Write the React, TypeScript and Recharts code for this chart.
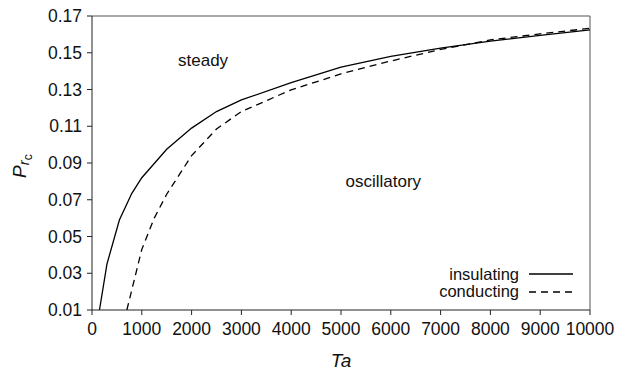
import {
  LineChart,
  Line,
  XAxis,
  YAxis,
  Legend,
  ReferenceLine,
  ReferenceDot,
} from "recharts";

// insulating boundary
const insTa = [150, 300, 550, 800, 1000, 1500, 2000, 2500, 3000, 4000, 5000, 6000, 7000, 8000, 9000, 10000];
const insP = [0.01, 0.035, 0.059, 0.0735, 0.082, 0.0975, 0.109, 0.118, 0.1243, 0.1337, 0.1422, 0.148, 0.1525, 0.1563, 0.1595, 0.1624];

// conducting boundary
const conTa = [700, 1000, 1250, 1500, 2000, 2500, 3000, 4000, 5000, 6000, 7000, 8000, 9000, 10000];
const conP = [0.01, 0.043, 0.06, 0.073, 0.094, 0.1085, 0.118, 0.1298, 0.1385, 0.1455, 0.1518, 0.157, 0.1603, 0.1633];

const xTicks = [0, 1000, 2000, 3000, 4000, 5000, 6000, 7000, 8000, 9000, 10000];
const yTicks = [0.01, 0.03, 0.05, 0.07, 0.09, 0.11, 0.13, 0.15, 0.17];
const legendOrder = ["insulating", "conducting"];

const insulating = insTa.map((ta, i) => ({ ta, p: insP[i] }));
const conducting = conTa.map((ta, i) => ({ ta, p: conP[i] }));

const FONT = "'Liberation Sans', Arial, sans-serif";
const tickStyle = { fontSize: 17.5, fill: "#111", fontFamily: FONT };

function LegendBox({ payload }: any) {
  const items = [...(payload || [])].sort(
    (a: any, b: any) => legendOrder.indexOf(a.value) - legendOrder.indexOf(b.value)
  );
  return (
    <div style={{ fontFamily: FONT, fontSize: 16.5, color: "#111" }}>
      {items.map((item: any) => (
        <div
          key={item.value}
          style={{ display: "flex", alignItems: "center", justifyContent: "flex-end", height: 17.5 }}
        >
          <span style={{ lineHeight: "16px" }}>{item.value}</span>
          <svg width={54} height={17}>
            <line
              x1={10}
              x2={54}
              y1={9}
              y2={9}
              stroke="#000"
              strokeWidth={1.3}
              strokeDasharray={item.payload?.strokeDasharray}
            />
          </svg>
        </div>
      ))}
    </div>
  );
}

function YLabel() {
  return (
    <text transform="rotate(-90, 26, 178)" x={26} y={178} fontFamily={FONT} fill="#111">
      <tspan fontSize={19} fontStyle="italic">P</tspan>
      <tspan fontSize={15} dy={3} fontStyle="italic">r</tspan>
      <tspan fontSize={12} dy={3}>c</tspan>
    </text>
  );
}

export default function App() {
  return (
    <div style={{ position: "absolute", left: 0, top: 0, background: "#fff" }}>
      <LineChart
        width={617}
        height={371}
        margin={{ top: 16, right: 27, bottom: 0, left: 0 }}
      >
        <XAxis
          type="number"
          dataKey="ta"
          domain={[0, 10000]}
          ticks={xTicks}
          interval={0}
          height={61}
          tick={tickStyle}
          tickSize={5}
          tickMargin={8}
          stroke="#222"
          label={{
            value: "Ta",
            position: "insideBottom",
            offset: 4,
            style: { fontSize: 19, fontStyle: "italic", fill: "#111", fontFamily: FONT },
          }}
        />
        <YAxis
          type="number"
          domain={[0.01, 0.17]}
          ticks={yTicks}
          interval={0}
          width={92}
          tick={tickStyle}
          tickSize={5}
          tickMargin={5}
          tickFormatter={(v) => v.toFixed(2)}
          stroke="#222"
          label={<YLabel />}
        />
        <ReferenceLine y={0.17} stroke="#555" />
        <ReferenceLine x={10000} stroke="#555" />
        <ReferenceDot
          x={2230}
          y={0.146}
          r={1}
          fill="none"
          stroke="none"
          label={{ value: "steady", position: "center", style: { fontSize: 17, fill: "#111", fontFamily: FONT } }}
        />
        <ReferenceDot
          x={5850}
          y={0.08}
          r={1}
          fill="none"
          stroke="none"
          label={{ value: "oscillatory", position: "center", style: { fontSize: 17, fill: "#111", fontFamily: FONT } }}
        />
        <Legend
          layout="vertical"
          align="center"
          verticalAlign="middle"
          content={<LegendBox />}
          wrapperStyle={{ position: "absolute", left: 400, top: 265, width: 173 }}
        />
        <Line
          data={insulating}
          dataKey="p"
          name="insulating"
          type="linear"
          stroke="#000"
          strokeWidth={1.3}
          dot={false}
          isAnimationActive={false}
        />
        <Line
          data={conducting}
          dataKey="p"
          name="conducting"
          type="linear"
          stroke="#000"
          strokeWidth={1.3}
          strokeDasharray="7 5"
          dot={false}
          isAnimationActive={false}
        />
      </LineChart>
    </div>
  );
}
